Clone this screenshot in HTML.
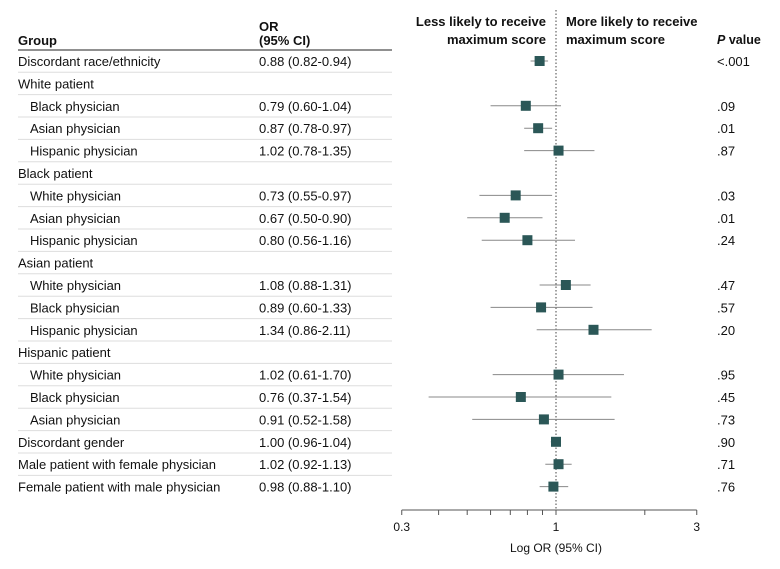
<!DOCTYPE html>
<html><head><meta charset="utf-8"><style>
body{margin:0;background:#fff;font-family:"Liberation Sans",sans-serif;}
svg text{font-family:"Liberation Sans",sans-serif;font-size:13px;fill:#111;}
</style></head><body>
<svg id="c" width="780" height="564"></svg>
<script>
const labels=["Discordant race/ethnicity","White patient","Black physician","Asian physician","Hispanic physician","Black patient","White physician","Asian physician","Hispanic physician","Asian patient","White physician","Black physician","Hispanic physician","Hispanic patient","White physician","Black physician","Asian physician","Discordant gender","Male patient with female physician","Female patient with male physician"];
const indent=[0,0,1,1,1,0,1,1,1,0,1,1,1,0,1,1,1,0,0,0];
const orVals=[0.88,null,0.79,0.87,1.02,null,0.73,0.67,0.80,null,1.08,0.89,1.34,null,1.02,0.76,0.91,1.00,1.02,0.98];
const loVals=[0.82,null,0.60,0.78,0.78,null,0.55,0.50,0.56,null,0.88,0.60,0.86,null,0.61,0.37,0.52,0.96,0.92,0.88];
const hiVals=[0.94,null,1.04,0.97,1.35,null,0.97,0.90,1.16,null,1.31,1.33,2.11,null,1.70,1.54,1.58,1.04,1.13,1.10];
const pVals=["<.001","",".09",".01",".87","",".03",".01",".24","",".47",".57",".20","",".95",".45",".73",".90",".71",".76"];
const tickVals=[0.3,0.4,0.5,0.6,0.7,0.8,0.9,1,2,3];
const tickLabels=["0.3","","","","","","","1","","3"];
const svg=document.getElementById('c');const NS="http://www.w3.org/2000/svg";
function x(v){return 556+295*Math.log10(v);}
function y(i){return 61+i*22.4;}
function mk(t,a,txt){const e=document.createElementNS(NS,t);for(const k in a)e.setAttribute(k,a[k]);if(txt!=null)e.textContent=txt;svg.appendChild(e);return e;}
let e;
e=mk('text',{x:18,y:45,'font-weight':'bold'},'Group');
e=mk('text',{x:259,y:31,'font-weight':'bold'},'OR');
e=mk('text',{x:259,y:45,'font-weight':'bold'},'(95% CI)');
e=mk('text',{x:546,y:26,'font-weight':'bold','text-anchor':'end'},'Less likely to receive');
e=mk('text',{x:546,y:44,'font-weight':'bold','text-anchor':'end'},'maximum score');
e=mk('text',{x:566,y:26,'font-weight':'bold'},'More likely to receive');
e=mk('text',{x:566,y:44,'font-weight':'bold'},'maximum score');
e=mk('text',{x:717,y:44,'font-weight':'bold',style:'font-size:12.5px'},'');e.innerHTML='<tspan font-style="italic">P</tspan> value';
e=mk('line',{x1:18,x2:392,y1:50,y2:50,stroke:'#222','stroke-width':1});
e=mk('line',{x1:x(1),x2:x(1),y1:10,y2:510,stroke:'#444','stroke-width':1,'stroke-dasharray':'1.5,2'});
labels.forEach((l,i)=>{
 const yy=y(i);
 if(i<labels.length-1){e=mk('line',{x1:18,x2:392,y1:yy+11.2,y2:yy+11.2,stroke:'#ddd','stroke-width':1});}
 e=mk('text',{x:18+indent[i]*12,y:yy+5},l);
 if(orVals[i]!=null){
  e=mk('text',{x:259,y:yy+5},orVals[i].toFixed(2)+' ('+loVals[i].toFixed(2)+'-'+hiVals[i].toFixed(2)+')');
  e=mk('line',{x1:x(loVals[i]),x2:x(hiVals[i]),y1:yy,y2:yy,stroke:'#888','stroke-width':1});
  e=mk('rect',{x:x(orVals[i])-5,y:yy-5,width:10,height:10,fill:'#2b5757'});
  e=mk('text',{x:717,y:yy+5},pVals[i]);
 }
});
e=mk('line',{x1:x(0.3),x2:x(3),y1:510,y2:510,stroke:'#555','stroke-width':1});
tickVals.forEach((t,i)=>{
 e=mk('line',{x1:x(t),x2:x(t),y1:510,y2:515,stroke:'#555','stroke-width':1});
 if(tickLabels[i]){e=mk('text',{x:x(t),y:531,'text-anchor':'middle',style:'font-size:12px'},tickLabels[i]);}
});
e=mk('text',{x:x(1),y:552,'text-anchor':'middle',style:'font-size:12px'},'Log OR (95% CI)');
</script>
</body></html>
